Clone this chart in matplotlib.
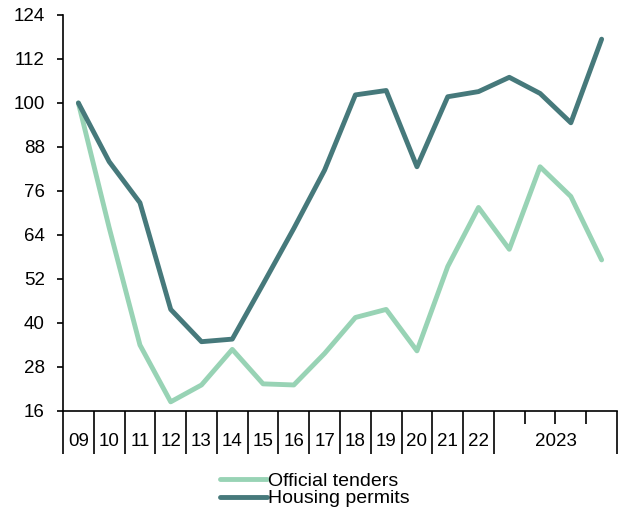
import matplotlib
matplotlib.use("Agg")
import matplotlib.pyplot as plt
from matplotlib.transforms import blended_transform_factory

plt.rcParams['font.family'] = ['Liberation Sans', 'DejaVu Sans']

periods = ["09", "10", "11", "12", "13", "14", "15", "16", "17", "18", "19", "20", "21", "22",
           "2023Q1", "2023Q2", "2023Q3", "2023Q4"]
year_labels = ["09", "10", "11", "12", "13", "14", "15", "16", "17", "18", "19", "20", "21", "22", "2023"]
official_tenders = [100, 66, 34, 18.5, 23.1, 32.8, 23.4, 23.1, 31.7, 41.5, 43.7, 32.4,
                    55.4, 71.5, 60.1, 82.6, 74.5, 57.2]
housing_permits = [100, 84, 72.8, 43.7, 34.9, 35.6, 50.6, 65.8, 81.7, 102.2, 103.4, 82.6,
                   101.7, 103.1, 107, 102.6, 94.6, 117.4]
yticks = [16, 28, 40, 52, 64, 76, 88, 100, 112, 124]

FS = 13.5

fig = plt.figure(figsize=(6.2, 5.14), dpi=100)
ax = fig.add_axes([0.1016, 0.2004, 0.8936, 0.7705])

x = list(range(len(periods)))
c_light = "#98d3b5"
c_dark = "#46797b"
ax.plot(x, official_tenders, color=c_light, lw=3.5, label="Official tenders", solid_capstyle="round")
ax.plot(x, housing_permits, color=c_dark, lw=3.5, label="Housing permits", solid_capstyle="round")

ax.set_ylim(16, 124)
ax.set_yticks(yticks)
ax.set_xlim(-0.5, len(periods) - 0.5)

for s in ["top", "right"]:
    ax.spines[s].set_visible(False)
for s in ["left", "bottom"]:
    ax.spines[s].set_linewidth(1.2)

ax.tick_params(axis="y", labelsize=FS, length=4.5, width=1.2, pad=8.5)

# year boundaries (long ticks) and quarter boundaries (short ticks)
n_years = 14
major = [i - 0.5 for i in range(n_years + 1)] + [len(periods) - 0.5]
minor = [n_years + 0.5, n_years + 1.5, n_years + 2.5]
ax.set_xticks(major)
ax.set_xticklabels([])
ax.set_xticks(minor, minor=True)
ax.tick_params(axis="x", which="major", direction="out", length=31, width=1.2)
ax.tick_params(axis="x", which="minor", direction="out", length=9.5, width=1.2)

trans = blended_transform_factory(ax.transData, ax.transAxes)
centers = list(range(n_years)) + [(n_years + len(periods) - 1) / 2]
for cx, lab in zip(centers, year_labels):
    ax.text(cx, -0.0775, lab, transform=trans, ha="center", va="center", fontsize=FS)

fig.legend(loc="center", bbox_to_anchor=(0.508, 0.047), frameon=False, ncol=1,
           fontsize=14, handlelength=2.4, handletextpad=0.1, labelspacing=0.0,
           borderpad=0)

fig.savefig("out.png", dpi=100)
